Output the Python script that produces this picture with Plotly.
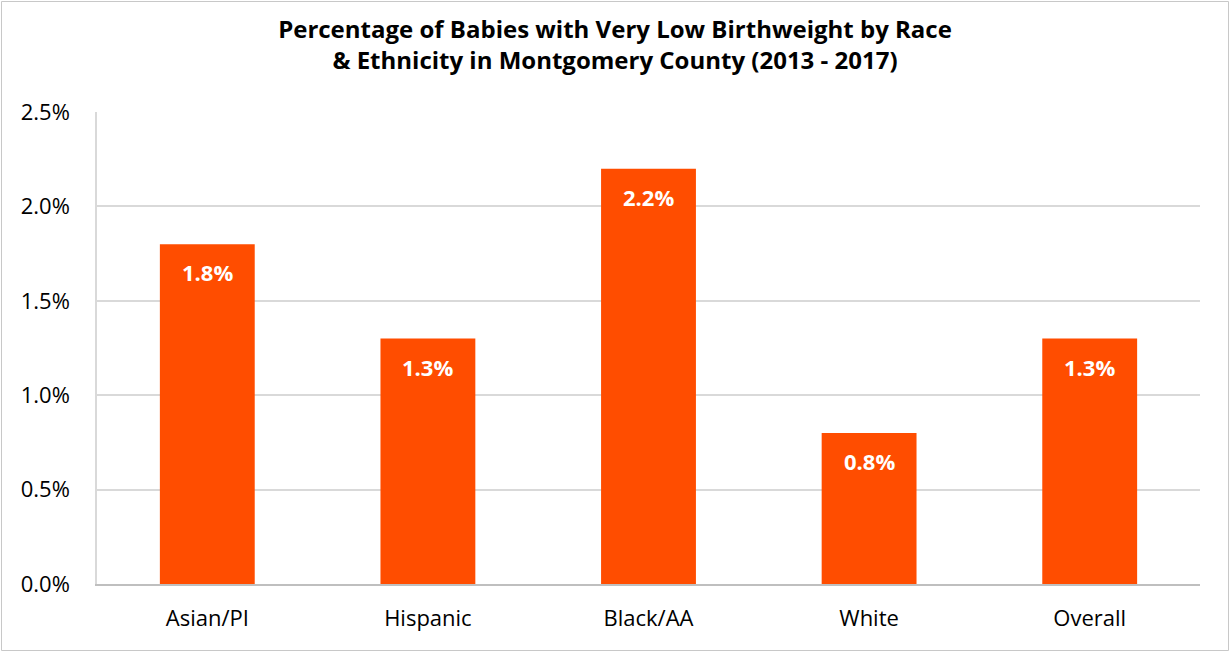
import plotly.graph_objects as go

categories = ["Asian/PI", "Hispanic", "Black/AA", "White", "Overall"]
values = [1.8, 1.3, 2.2, 0.8, 1.3]
labels = ["1.8%", "1.3%", "2.2%", "0.8%", "1.3%"]
tick_vals = [0, 0.5, 1.0, 1.5, 2.0, 2.5]
tick_text = ["0.0%", "0.5%", "1.0%", "1.5%", "2.0%", "2.5%"]

FONT = "Open Sans, Calibri, Carlito, sans-serif"
BAR = "#FF4D00"

fig = go.Figure()
fig.add_trace(go.Bar(x=categories, y=values, marker=dict(color=BAR, line=dict(width=0)),
                     width=0.43, hoverinfo="skip"))

for c, v, t in zip(categories, values, labels):
    fig.add_annotation(x=c, y=v, text=t, showarrow=False, yanchor="top", yshift=-11,
                       font=dict(family=FONT, size=22, color="white", weight="bold"))

W, H = 1230, 652
L, R, T, B = 97, 30, 112, 68
pw, ph = W - L - R, H - T - B
def px_x(p): return (p - L) / pw
def px_y(p): return (H - B - p) / ph

fig.add_shape(type="rect", xref="paper", yref="paper",
              x0=px_x(1.5), x1=px_x(1228.5), y0=px_y(650.5), y1=px_y(1.5),
              line=dict(color="#c8c8c8", width=1), fillcolor="rgba(0,0,0,0)", layer="below")

fig.update_layout(
    width=W, height=H,
    margin=dict(l=L, r=R, t=T, b=B),
    paper_bgcolor="white", plot_bgcolor="white",
    showlegend=False,
    title=dict(text="Percentage of Babies with Very Low Birthweight by Race<br>&amp; Ethnicity in Montgomery County (2013 - 2017)",
               x=0.5, xanchor="center", y=1 - 38/H, yanchor="middle",
               font=dict(family=FONT, size=24, color="black", weight="bold")),
    font=dict(family=FONT, size=22, color="black"),
    bargap=0.57,
)
fig.update_xaxes(showgrid=False, showline=True, linecolor="#bfbfbf", linewidth=1.5,
                 ticks="", tickfont=dict(family=FONT, size=22, color="black"), ticklabelstandoff=14)
fig.update_yaxes(range=[0, 2.5], tickvals=tick_vals, ticktext=tick_text,
                 showgrid=True, gridcolor="#d9d9d9", gridwidth=1.5,
                 showline=True, linecolor="#d9d9d9", linewidth=1.5, zeroline=False,
                 ticks="", tickfont=dict(family=FONT, size=22, color="black"), ticklabelstandoff=21)

fig.write_html("out.html", config={"displayModeBar": False},
               post_script="document.body.style.margin='0';")
